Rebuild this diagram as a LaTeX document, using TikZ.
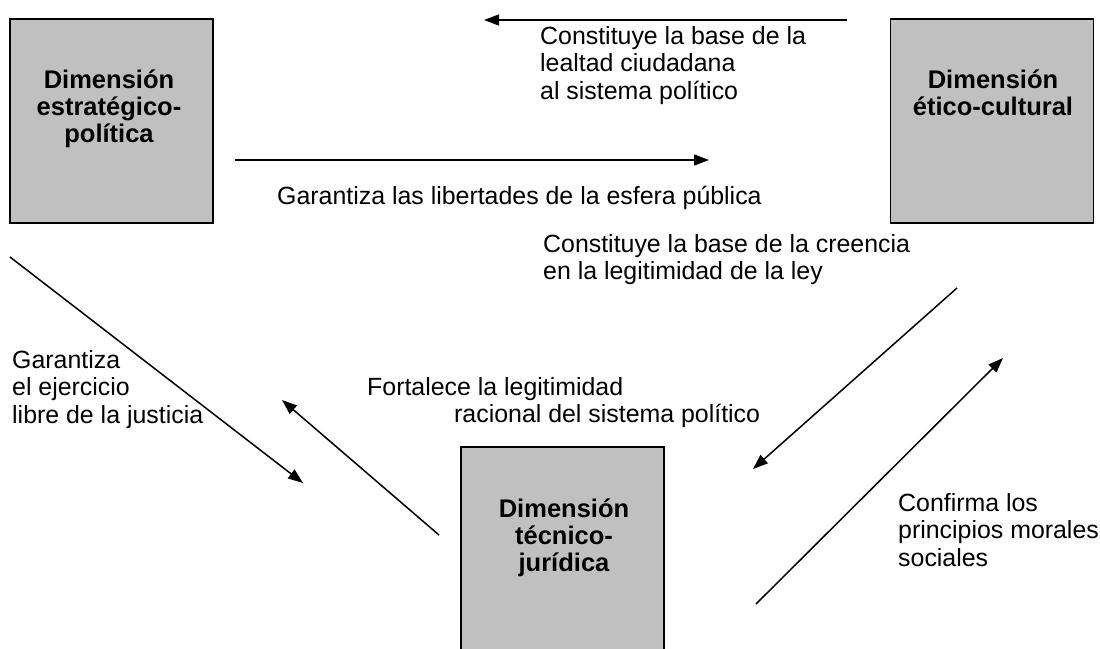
\documentclass[tikz,border=0pt]{standalone}
\usepackage{fontspec}
\setmainfont{Liberation Sans}
\usetikzlibrary{arrows.meta}
\definecolor{boxgray}{HTML}{C0C0C0}
\newcommand\leftlines[1]{\vtop{\lineskiplimit=-100pt\lineskip=0pt\halign{##\hfil\cr#1\crcr}}}
\newcommand\centerlines[1]{\vtop{\lineskiplimit=-100pt\lineskip=0pt\halign{\hfil##\hfil\cr#1\crcr}}}
\begin{document}
\begin{tikzpicture}[x=1pt,y=-1pt,
  dimbox/.style={draw=black, line width=1.5pt, fill=boxgray, inner sep=0pt,
    minimum width=203pt, minimum height=204pt},
  boxlabel/.style={inner sep=0pt, anchor=base, font=\fontsize{25.5}{27.2}\selectfont\bfseries},
  lbl/.style={inner sep=0pt, anchor=base west, font=\fontsize{24.9}{27.6}\selectfont},
  conn/.style={line width=1.5pt, -{Triangle[length=15pt,width=11pt]}}
]
\clip (0,0) rectangle (1100,648);
\fill[white] (0,0) rectangle (1100,648);

% boxes
\node[dimbox] (ep) at (111.5,121) {};
\node[dimbox] (ec) at (992,121) {};
\node[dimbox] (tj) at (562.5,549) {};

\node[boxlabel] (epl) at (109,88) {\centerlines{Dimensión\cr estratégico-\cr política}};
\node[boxlabel] (ecl) at (993,88) {\centerlines{Dimensión\cr ético-cultural}};
\node[boxlabel] (tjl) at (564,517) {\centerlines{Dimensión\cr técnico-\cr jurídica}};

% arrow end points
\coordinate (a1s) at (847,20);  \coordinate (a1e) at (484,20);
\coordinate (a2s) at (235,160); \coordinate (a2e) at (709,160);
\coordinate (a3s) at (10,257);  \coordinate (a3e) at (303,483);
\coordinate (a4s) at (439,535); \coordinate (a4e) at (282,400);
\coordinate (a5s) at (957,288); \coordinate (a5e) at (753,469);
\coordinate (a6s) at (756,604); \coordinate (a6e) at (1003,358);

\draw[conn] (a1s) -- (a1e);
\draw[conn] (a2s) -- (a2e);
\draw[conn] (a3s) -- (a3e);
\draw[conn] (a4s) -- (a4e);
\draw[conn] (a5s) -- (a5e);
\draw[conn] (a6s) -- (a6e);

% labels
\node[lbl] (t1) at (540,44) {\leftlines{Constituye la base de la\cr lealtad ciudadana\cr al sistema político}};
\node[lbl] (t2) at (277,204) {Garantiza las libertades de la esfera pública};
\node[lbl] (t3) at (543,252) {\leftlines{Constituye la base de la creencia\cr en la legitimidad de la ley}};
\node[lbl] (t4) at (12,368) {\leftlines{Garantiza\cr el ejercicio\cr libre de la justicia}};
\node[lbl] (t5) at (367,395) {\leftlines{Fortalece la legitimidad\cr \hskip 87pt racional del sistema político}};
\node[lbl] (t6) at (898,511) {\leftlines{Confirma los\cr principios morales\cr sociales}};
\end{tikzpicture}
\end{document}
